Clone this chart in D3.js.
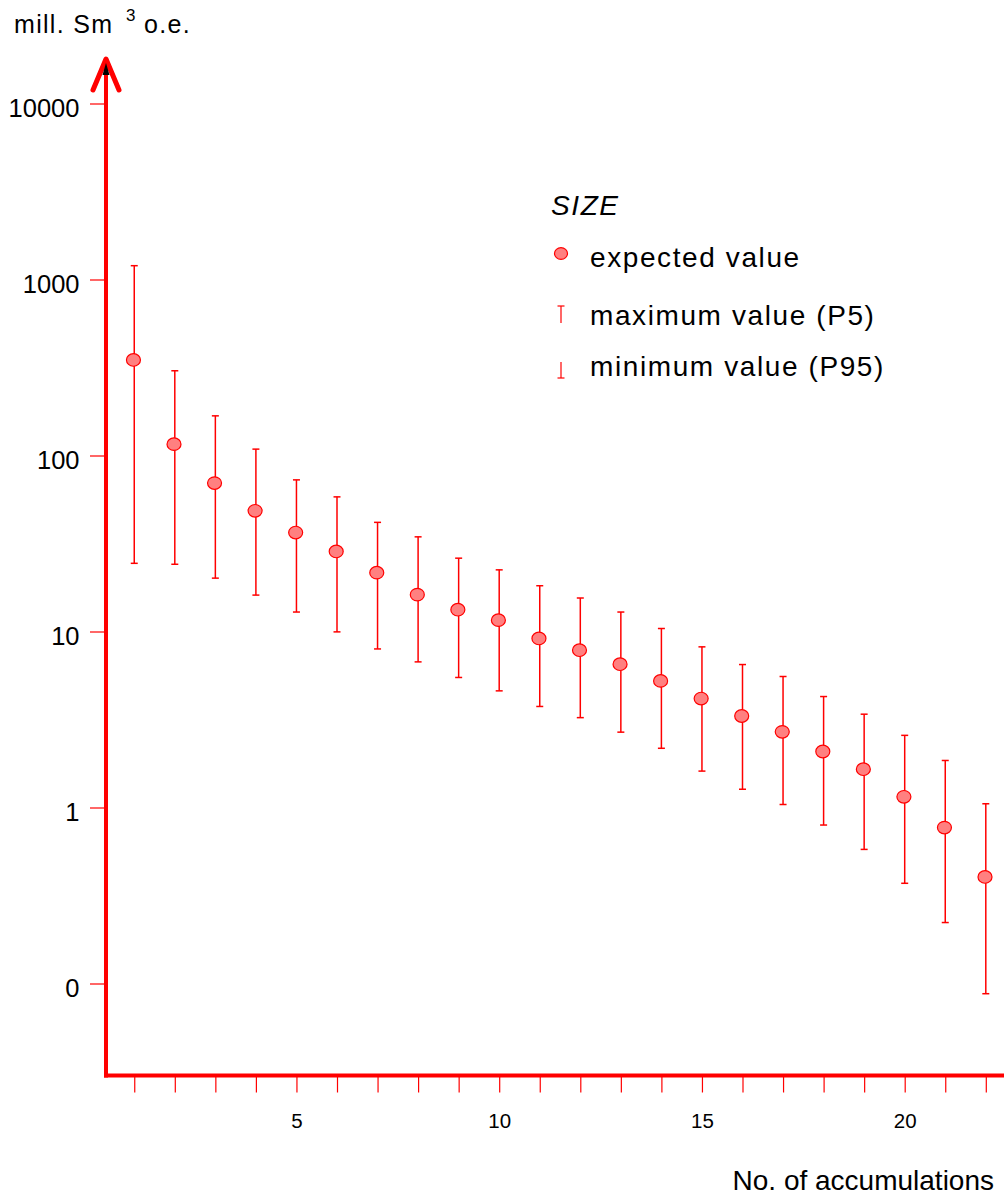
<!DOCTYPE html>
<html>
<head>
<meta charset="utf-8">
<script src="https://cdn.jsdelivr.net/npm/d3@7/dist/d3.min.js"></script>
<style>
  body { margin: 0; background: #fff; }
  svg { display: block; font-family: "Liberation Sans", Arial, sans-serif; }
</style>
</head>
<body>
<div id="chart"></div>
<script>
// Data
let accumulations = d3.range(1, 23);
let expectedValue = [349, 116, 69.7, 48.5, 36.5, 28.5, 21.6, 16.2, 13.3, 11.6, 9.13,
  7.83, 6.52, 5.24, 4.16, 3.31, 2.69, 2.08, 1.65, 1.15, 0.769, 0.403];
let maxValueP5 = [1198, 303, 168, 108.7, 72.7, 58.2, 41.7, 34.5, 26.1, 22.4, 18.2,
  15.5, 12.9, 10.4, 8.18, 6.49, 5.55, 4.27, 3.39, 2.57, 1.85, 1.05];
let minValueP95 = [24.4, 24.1, 20.1, 16.1, 12.9, 9.95, 7.96, 6.72, 5.48, 4.60, 3.75,
  3.24, 2.68, 2.17, 1.61, 1.27, 1.04, 0.795, 0.578, 0.371, 0.222, 0.0875];

let yTickValues = [10000, 1000, 100, 10, 1, 0.1];
let yTickLabels = ["10000", "1000", "100", "10", "1", "0"];
let xLabelled = [5, 10, 15, 20];

let svgWidth = 1004;
let svgHeight = 1197;
let red = "#ff0000";

let svg = d3.select("#chart")
  .append("svg")
  .attr("width", svgWidth)
  .attr("height", svgHeight);

// scales
let xScale = d3.scaleLinear()
  .domain([0, 22])
  .range([93.7, 985.8]);

let yScale = d3.scaleLog()
  .domain([0.1, 10000])
  .range([983.5, 103.5]);

let axisX = 106;
let axisY = 1075.5;

// y axis ticks + labels
let yAxis = svg.append("g")
  .attr("transform", `translate(${axisX},0)`)
  .call(d3.axisLeft(yScale)
    .tickValues(yTickValues)
    .tickSize(16)
    .tickPadding(10.5)
    .tickFormat((d, i) => yTickLabels[i]));
yAxis.select(".domain").remove();
yAxis.selectAll(".tick line").attr("stroke", red).attr("stroke-width", 1.2);
yAxis.selectAll(".tick text")
  .attr("fill", "#000")
  .attr("font-size", 25.5)
  .attr("font-family", "Liberation Sans, Arial, sans-serif")
  .attr("dy", "0.5em");

// x axis ticks + labels
let xAxis = svg.append("g")
  .attr("transform", `translate(0,${axisY})`)
  .call(d3.axisBottom(xScale)
    .tickValues(accumulations)
    .tickSize(17)
    .tickFormat(d => xLabelled.includes(d) ? d : ""));
xAxis.select(".domain").remove();
xAxis.selectAll(".tick line").attr("stroke", red).attr("stroke-width", 1.2);
xAxis.selectAll(".tick text")
  .attr("fill", "#000")
  .attr("font-size", 20.5)
  .attr("font-family", "Liberation Sans, Arial, sans-serif")
  .attr("y", 52.5)
  .attr("dy", 0);

// main axis lines
svg.append("line")
  .attr("x1", axisX).attr("x2", axisX)
  .attr("y1", 60).attr("y2", axisY + 2)
  .attr("stroke", red).attr("stroke-width", 4);
svg.append("line")
  .attr("x1", axisX - 2).attr("x2", svgWidth)
  .attr("y1", axisY).attr("y2", axisY)
  .attr("stroke", red).attr("stroke-width", 4);

// arrow head
svg.append("path")
  .attr("d", `M${axisX - 13},90 L${axisX},59 L${axisX + 13},90`)
  .attr("fill", "none")
  .attr("stroke", red)
  .attr("stroke-width", 5)
  .attr("stroke-linecap", "round")
  .attr("stroke-linejoin", "round");
svg.append("path")
  .attr("d", `M${axisX},63 L${axisX - 3.5},75 L${axisX + 3.5},75 Z`)
  .attr("fill", "#000");

// error bars
let bars = svg.append("g")
  .selectAll("g")
  .data(accumulations)
  .enter()
  .append("g")
  .attr("stroke", red)
  .attr("stroke-width", 1.5);

bars.append("line")
  .attr("x1", d => xScale(d)).attr("x2", d => xScale(d))
  .attr("y1", (d, i) => yScale(maxValueP5[i]))
  .attr("y2", (d, i) => yScale(minValueP95[i]));
bars.append("line")
  .attr("x1", d => xScale(d) - 3.5).attr("x2", d => xScale(d) + 3.5)
  .attr("y1", (d, i) => yScale(maxValueP5[i]))
  .attr("y2", (d, i) => yScale(maxValueP5[i]));
bars.append("line")
  .attr("x1", d => xScale(d) - 3.5).attr("x2", d => xScale(d) + 3.5)
  .attr("y1", (d, i) => yScale(minValueP95[i]))
  .attr("y2", (d, i) => yScale(minValueP95[i]));

// expected value dots
svg.append("g")
  .selectAll("ellipse")
  .data(accumulations)
  .enter()
  .append("ellipse")
  .attr("cx", d => xScale(d) - 0.8)
  .attr("cy", (d, i) => yScale(expectedValue[i]))
  .attr("rx", 7)
  .attr("ry", 6.3)
  .attr("fill", "#ff8080")
  .attr("stroke", red)
  .attr("stroke-width", 1.2);

// axis titles
let title = svg.append("g").attr("font-size", 25).attr("fill", "#000")
  .attr("letter-spacing", 1.3);
title.append("text").attr("x", 14).attr("y", 33).text("mill. Sm");
title.append("text").attr("x", 126).attr("y", 21).attr("font-size", 17).text("3");
title.append("text").attr("x", 144).attr("y", 33).text("o.e.");

svg.append("text")
  .attr("x", 994).attr("y", 1190)
  .attr("text-anchor", "end")
  .attr("font-size", 28)
  .text("No. of accumulations");

// legend
let legend = svg.append("g").attr("font-size", 28).attr("fill", "#000")
  .attr("letter-spacing", 1.6);
legend.append("text")
  .attr("x", 551).attr("y", 215)
  .attr("font-style", "italic")
  .text("SIZE");
legend.append("ellipse")
  .attr("cx", 561).attr("cy", 253.5)
  .attr("rx", 6.5).attr("ry", 5.8)
  .attr("fill", "#ff8080").attr("stroke", red).attr("stroke-width", 1.2);
legend.append("text").attr("x", 590).attr("y", 267).text("expected value");

let lgMax = legend.append("g").attr("stroke", red).attr("stroke-width", 1.2);
lgMax.append("line").attr("x1", 561).attr("x2", 561).attr("y1", 306).attr("y2", 323);
lgMax.append("line").attr("x1", 557.5).attr("x2", 564.5).attr("y1", 306).attr("y2", 306);
legend.append("text").attr("x", 590).attr("y", 325).text("maximum value (P5)");

let lgMin = legend.append("g").attr("stroke", red).attr("stroke-width", 1.2);
lgMin.append("line").attr("x1", 561).attr("x2", 561).attr("y1", 362).attr("y2", 378);
lgMin.append("line").attr("x1", 557.5).attr("x2", 564.5).attr("y1", 378).attr("y2", 378);
legend.append("text").attr("x", 590).attr("y", 376).text("minimum value (P95)");
</script>
</body>
</html>
